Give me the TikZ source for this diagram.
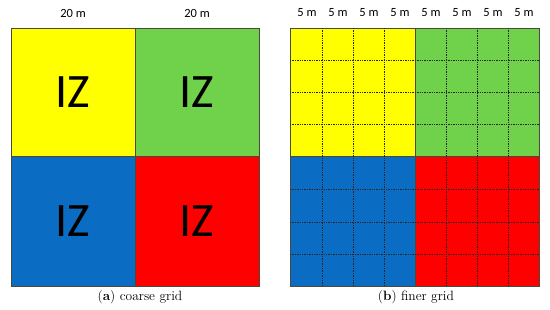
\documentclass[tikz,border=0pt]{standalone}
\usepackage{fontspec}
\setsansfont{Carlito}
\definecolor{cyel}{HTML}{FFFF00}
\definecolor{cgrn}{HTML}{70D24A}
\definecolor{cblu}{HTML}{0A6CC2}
\definecolor{cred}{HTML}{FF0000}
\definecolor{cedge}{HTML}{4A4A3A}
\begin{document}
\begin{tikzpicture}[x=1pt,y=-1pt,
  quad/.style={draw=cedge,line width=0.7pt,rectangle,outer sep=0pt,inner sep=0pt,
     font=\sffamily\fontsize{48}{48}\selectfont},
  qa/.style={quad,minimum width=124pt,minimum height=128pt},
  qb/.style={quad,minimum width=124pt,minimum height=130pt},
  dim/.style={font=\sffamily\fontsize{12.5}{13}\selectfont,inner sep=0pt},
  captext/.style={font=\fontsize{13.5}{15}\selectfont,inner sep=0pt},
  gridl/.style={draw=black!85,line width=0.5pt,dash pattern=on 1.4pt off 1pt}]
\useasboundingbox[fill=white] (0,0) rectangle (550,309);
% (a) coarse grid
\node[qa,fill=cyel] (a1) at (73,92) {IZ};
\node[qa,fill=cgrn] (a2) at (197,92) {IZ};
\node[qb,fill=cblu] (a3) at (73,221) {IZ};
\node[qb,fill=cred] (a4) at (197,221) {IZ};
\node[dim] (l1) at (73,13) {20 m};
\node[dim] (l2) at (197,13) {20 m};
\node[captext] (ca) at (140,297) {(\textbf{a}) coarse grid};
% (b) finer grid
\node[qa,minimum width=125pt,fill=cyel] (b1) at (352.5,92) {};
\node[qa,fill=cgrn] (b2) at (477,92) {};
\node[qb,minimum width=125pt,fill=cblu] (b3) at (352.5,221) {};
\node[qb,fill=cred] (b4) at (477,221) {};
\foreach \x in {322,353,384,446,477,508}
  \draw[gridl] (\x,28) -- (\x,286);
\foreach \y in {60,92,124,189,222,254}
  \draw[gridl] (290,\y) -- (539,\y);
\foreach \x/\n in {307/1,338/2,369/3,400/4,431/5,462/6,493/7,524/8}
  \node[dim] (m\n) at (\x,13) {5 m};
\node[captext] (cb) at (416,297) {(\textbf{b}) finer grid};
\end{tikzpicture}
\end{document}
